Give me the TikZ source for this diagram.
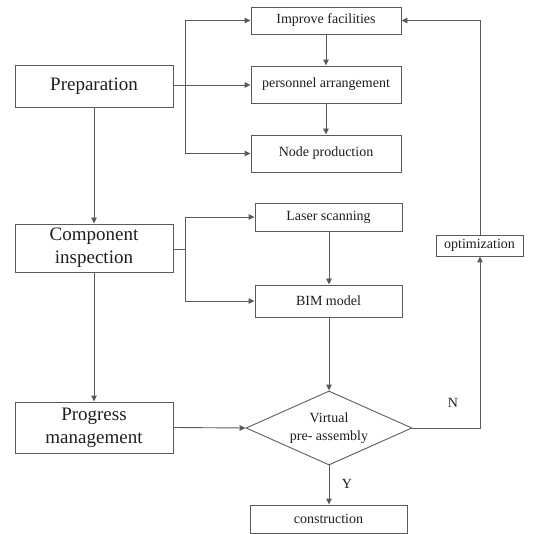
\documentclass[tikz,border=0pt]{standalone}
\usepackage{fontspec}
\setmainfont{Liberation Serif}
\newfontfamily\tms{Liberation Serif}
\usetikzlibrary{shapes.geometric,arrows.meta}
\definecolor{linegray}{HTML}{5A5A5A}
\definecolor{txt}{HTML}{1E1E1E}
\tikzset{
  bigbox/.style={draw=linegray, line width=0.9pt, text=txt, minimum width=158pt, align=center, inner sep=0pt, font=\tms\fontsize{19}{23}\selectfont},
  smallbox/.style={draw=linegray, line width=0.9pt, text=txt, align=center, inner sep=0pt, font=\tms\fontsize{14}{18}\selectfont},
  decide/.style={draw=linegray, line width=0.9pt, text=txt, shape=diamond, aspect=2.24, inner sep=0pt, minimum width=166pt, minimum height=74pt, align=center, font=\tms\fontsize{14}{18}\selectfont},
  conn/.style={draw=linegray, line width=0.9pt},
  arr/.style={conn, -{Triangle[length=6pt,width=5.5pt]}},
  lbl/.style={text=txt, inner sep=0pt, font=\tms\fontsize{14}{18}\selectfont}
}
\begin{document}
\begin{tikzpicture}[x=1pt,y=-1pt]
\useasboundingbox (0,0) rectangle (551,534);
% left column
\node[bigbox, minimum height=42pt] (prep) at (94,86) {Preparation};
\node[bigbox, minimum height=48pt] (comp) at (94,248) {Component\\inspection};
\node[bigbox, minimum height=51pt] (prog) at (94,427.5) {Progress\\management};
% middle column
\node[smallbox, minimum width=150pt, minimum height=27pt] (impr) at (326,20.5) {Improve facilities};
\node[smallbox, minimum width=150pt, minimum height=37pt] (pers) at (326,84.5) {personnel arrangement};
\node[smallbox, minimum width=150pt, minimum height=37pt] (nodep) at (326,153.5) {Node production};
\node[smallbox, minimum width=147pt, minimum height=28pt] (laser) at (328.5,217) {Laser scanning};
\node[smallbox, minimum width=147pt, minimum height=32pt] (bim) at (328.5,301) {BIM model};
\node[decide] (virt) at (329,428) {Virtual\\pre- assembly};
\node[smallbox, minimum width=157pt, minimum height=28pt] (cons) at (328.5,519) {construction};
% right
\node[smallbox, minimum width=87pt, minimum height=21pt] (opt) at (479.5,245.5) {optimization};
% branch coordinates
\coordinate (b1) at (185,85);
\coordinate (b1top) at (185,20.5);
\coordinate (b1bot) at (185,153.5);
\coordinate (b2) at (185,249);
\coordinate (b2top) at (185,217);
\coordinate (b2bot) at (185,301);
\coordinate (nturn) at (480,428);
\coordinate (topturn) at (480,20.5);
% connectors
\draw[conn] (prep.east |- b1) -- (b1);
\draw[conn] (b1top) -- (b1bot);
\draw[arr] (b1top) -- (impr.west);
\draw[arr] (b1) -- (pers.west |- b1);
\draw[arr] (b1bot) -- (nodep.west);
\draw[arr] (impr.south) -- (pers.north);
\draw[arr] (pers.south) -- (nodep.north);
\draw[arr] (prep.south) -- (comp.north);
\draw[conn] (comp.east |- b2) -- (b2);
\draw[conn] (b2top) -- (b2bot);
\draw[arr] (b2top) -- (laser.west);
\draw[arr] (b2bot) -- (bim.west);
\draw[arr] (laser.south -| virt.north) -- (bim.north -| virt.north);
\draw[arr] (comp.south) -- (prog.north);
\draw[arr] (prog.east) -- (virt.west);
\draw[arr] (bim.south -| virt.north) -- (virt.north);
\draw[arr] (virt.south) -- (cons.north -| virt.south);
\draw[arr] (virt.east) -- (nturn) -- (opt.south -| nturn);
\draw[arr] (opt.north -| topturn) -- (topturn) -- (impr.east);
% labels
\node[lbl] (nlab) at (453,403) {N};
\node[lbl] (ylab) at (347,484) {Y};
\end{tikzpicture}
\end{document}
